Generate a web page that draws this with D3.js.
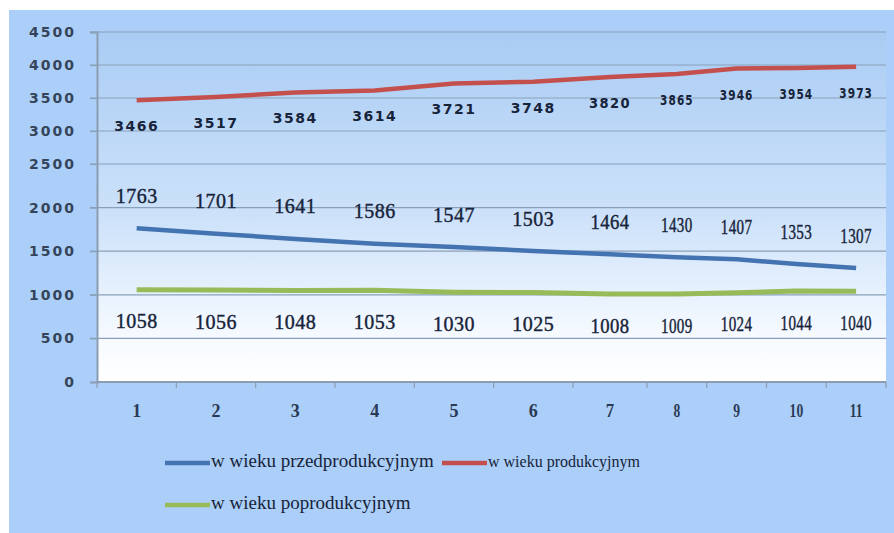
<!DOCTYPE html>
<html>
<head>
<meta charset="utf-8">
<script src="https://cdn.jsdelivr.net/npm/d3@7"></script>
<style>
  html, body { margin: 0; padding: 0; background: #ffffff; }
  svg { display: block; }
</style>
</head>
<body>
<svg id="chart" width="894" height="533"></svg>
<script>
// ---- data ----
const categories = [1, 2, 3, 4, 5, 6, 7, 8, 9, 10, 11];
const przedprodukcyjny = [1763, 1701, 1641, 1586, 1547, 1503, 1464, 1430, 1407, 1353, 1307];
const produkcyjny      = [3466, 3517, 3584, 3614, 3721, 3748, 3820, 3865, 3946, 3954, 3973];
const poprodukcyjny    = [1058, 1056, 1048, 1053, 1030, 1025, 1008, 1009, 1024, 1044, 1040];
const yTicks = [0, 500, 1000, 1500, 2000, 2500, 3000, 3500, 4000, 4500];
const seriesNames = ["w wieku przedprodukcyjnym", "w wieku produkcyjnym", "w wieku poprodukcyjnym"];

const svg = d3.select("#chart");

// the reference image is unevenly stretched, so scales are piecewise linear
const x = d3.scaleLinear().domain([0.5, 6.5, 7.5, 11.5]).range([97, 573, 647, 886]);
const y = d3.scaleLinear().domain([0, 2500, 4500]).range([382, 164, 32]);
const baseBand = x(1.5) - x(0.5);
const squeeze = c => (x(c + 0.5) - x(c - 0.5)) / baseBand;

const serif = "'Liberation Serif', 'DejaVu Serif', serif";
const sans = "'DejaVu Sans', Verdana, sans-serif";

// gradients
const defs = svg.append("defs");
const g1 = defs.append("linearGradient").attr("id", "plotGrad")
  .attr("x1", 0).attr("y1", 0).attr("x2", 0).attr("y2", 1);
g1.append("stop").attr("offset", "0%").attr("stop-color", "#a9ccf4");
g1.append("stop").attr("offset", "55%").attr("stop-color", "#cfe3fa");
g1.append("stop").attr("offset", "85%").attr("stop-color", "#f4f9ff");
g1.append("stop").attr("offset", "100%").attr("stop-color", "#ffffff");

// outer background
svg.append("rect").attr("x", 9).attr("y", 10).attr("width", 885).attr("height", 523)
  .attr("fill", "#abcff8");

// plot area
svg.append("rect")
  .attr("x", x(0.5)).attr("y", y(4500))
  .attr("width", x(11.5) - x(0.5)).attr("height", y(0) - y(4500))
  .attr("fill", "url(#plotGrad)");

// gridlines
svg.append("g").selectAll("line").data(yTicks.filter(d => d > 0)).join("line")
  .attr("x1", x(0.5) - 7).attr("x2", x(11.5))
  .attr("y1", d => y(d)).attr("y2", d => y(d))
  .attr("stroke", "#8aa0ba").attr("stroke-width", 1.2);

// y axis
const yAxis = svg.append("g").attr("transform", `translate(${x(0.5)},0)`)
  .call(d3.axisLeft(y).tickValues(yTicks).tickFormat(d3.format("d")).tickSize(7).tickPadding(14));
yAxis.select(".domain").attr("stroke", "#8c9db2").attr("stroke-width", 2);
yAxis.selectAll(".tick line").attr("stroke", "#8aa0ba").attr("stroke-width", 1.2);
yAxis.selectAll(".tick text")
  .attr("fill", "#35445a")
  .style("font-family", sans)
  .style("font-size", "14px").style("font-weight", "bold")
  .style("letter-spacing", "2px");

// x axis
const xBounds = d3.range(0.5, 12, 1);
svg.append("line").attr("x1", x(0.5)).attr("x2", x(11.5)).attr("y1", y(0)).attr("y2", y(0))
  .attr("stroke", "#8c9db2").attr("stroke-width", 2);
svg.append("g").selectAll("line").data(xBounds).join("line")
  .attr("x1", d => x(d)).attr("x2", d => x(d))
  .attr("y1", y(0)).attr("y2", y(0) + 6)
  .attr("stroke", "#8c9db2").attr("stroke-width", 1.2);
svg.append("g").selectAll("text").data(categories).join("text")
  .attr("transform", d => `translate(${x(d)},${y(0) + 31}) scale(${squeeze(d)},1)`)
  .attr("text-anchor", "middle").attr("dominant-baseline", "middle")
  .attr("fill", "#2a3a55")
  .style("font-family", serif)
  .style("font-size", "18px").style("font-weight", "bold")
  .text(d => d);

// lines
const series = [
  { name: seriesNames[0], values: przedprodukcyjny, color: "#4373b0", width: 4.5, labelDy: -30, isSans: false },
  { name: seriesNames[1], values: produkcyjny,      color: "#c4504e", width: 4.5, labelDy: 27,  isSans: true },
  { name: seriesNames[2], values: poprodukcyjny,    color: "#96bb58", width: 5,   labelDy: 34,  isSans: false }
];
const line = d3.line().x((d, i) => x(categories[i])).y(d => y(d));

series.forEach(s => {
  svg.append("path").datum(s.values)
    .attr("d", line).attr("fill", "none")
    .attr("stroke", s.color).attr("stroke-width", s.width)
    .attr("stroke-linejoin", "round");
});

// data labels
series.forEach(s => {
  svg.append("g").selectAll("text").data(s.values).join("text")
    .attr("transform", (d, i) =>
      `translate(${x(categories[i])},${y(d) + s.labelDy}) scale(${squeeze(categories[i])},1)`)
    .attr("text-anchor", "middle").attr("dominant-baseline", "middle")
    .attr("fill", "#17233a")
    .attr("stroke", "#17233a").attr("stroke-width", s.isSans ? 0 : 0.4)
    .style("font-family", s.isSans ? sans : serif)
    .style("font-size", s.isSans ? "14px" : "20px")
    .style("font-weight", s.isSans ? "bold" : "normal")
    .style("letter-spacing", s.isSans ? "1.5px" : "0.5px")
    .text(d => d);
});

// legend
const legendItems = [
  { s: series[0], x: 165, y: 463, size: 19 },
  { s: series[1], x: 442, y: 463, size: 16 },
  { s: series[2], x: 165, y: 505, size: 19 }
];
const lg = svg.append("g");
legendItems.forEach(it => {
  lg.append("line").attr("x1", it.x).attr("x2", it.x + 45)
    .attr("y1", it.y).attr("y2", it.y)
    .attr("stroke", it.s.color).attr("stroke-width", 4.5);
  lg.append("text").attr("x", it.x + 46).attr("y", it.y)
    .attr("dominant-baseline", "middle")
    .attr("fill", "#17233a")
    .style("font-family", serif)
    .style("font-size", it.size + "px")
    .text(it.s.name);
});
</script>
</body>
</html>
